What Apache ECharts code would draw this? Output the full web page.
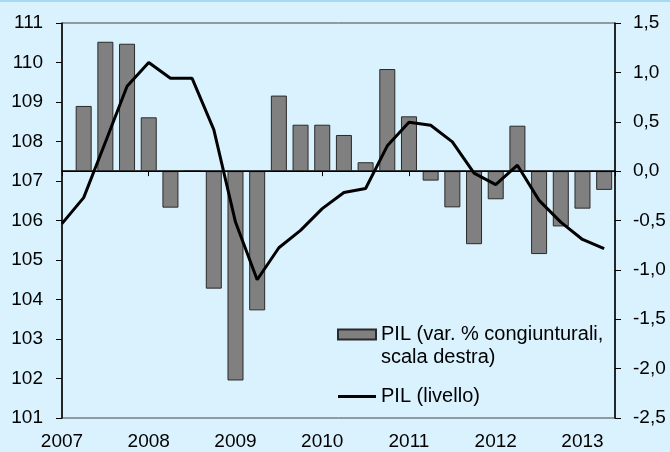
<!DOCTYPE html>
<html>
<head>
<meta charset="utf-8">
<script src="https://cdn.jsdelivr.net/npm/echarts@6/dist/echarts.min.js"></script>
<style>
  html, body { margin: 0; padding: 0; background: #daf2fe; }
  #chart { width: 670px; height: 452px; }
</style>
</head>
<body>
<div id="chart"></div>
<script>
// quarters as decimal years (level starts one quarter before the changes)
const levelQuarters = [2007, 2007.25, 2007.5, 2007.75, 2008, 2008.25, 2008.5, 2008.75,
  2009, 2009.25, 2009.5, 2009.75, 2010, 2010.25, 2010.5, 2010.75,
  2011, 2011.25, 2011.5, 2011.75, 2012, 2012.25, 2012.5, 2012.75, 2013, 2013.25];
// PIL (livello)
const level = [105.92, 106.58, 107.98, 109.4, 110.0, 109.6, 109.6, 108.3,
  105.96, 104.5, 105.31, 105.75, 106.3, 106.71, 106.81, 107.89,
  108.49, 108.41, 107.99, 107.2, 106.91, 107.4, 106.51, 105.96, 105.52, 105.29];
// PIL var. % congiunturali (right scale), from 2007 Q2
const changeQuarters = levelQuarters.slice(1);
const change = [0.66, 1.31, 1.29, 0.545, -0.37, 0.0, -1.19,
  -2.12, -1.41, 0.765, 0.47, 0.47, 0.366, 0.09, 1.034,
  0.555, -0.096, -0.367, -0.74, -0.285, 0.46, -0.84, -0.56, -0.38, -0.19];
const yearTicks = [2007, 2008, 2009, 2010, 2011, 2012, 2013];

const barName = 'PIL (var. % congiunturali,\nscala destra)';
const lineName = 'PIL (livello)';
const font = "'Liberation Sans', Arial, sans-serif";

const chart = echarts.init(document.getElementById('chart'));
chart.setOption({
  backgroundColor: '#daf2fe',
  animation: false,
  textStyle: { fontFamily: font, color: '#000' },
  graphic: [{
    type: 'rect', shape: { x: 0, y: 0, width: 670, height: 2 },
    style: { fill: '#a6daf3' }, silent: true
  }],
  grid: {
    left: 62, right: 55, top: 23, bottom: 34,
    show: true, borderColor: '#444', borderWidth: 1
  },
  legend: {
    orient: 'vertical',
    left: 337, top: 300,
    padding: 0,
    itemWidth: 38, itemHeight: 10, itemGap: 16,
    textStyle: { fontSize: 20, lineHeight: 23, color: '#000', fontFamily: font },
    // empty first line keeps the icon level with the first text line
    formatter: name => name === barName ? '\n' + name : name,
    data: [
      { name: barName, icon: 'rect' },
      { name: lineName, icon: 'path://M0,0 L38,0 L38,3 L0,3 Z' }
    ]
  },
  xAxis: {
    type: 'value',
    min: 2007, max: 2013.375, interval: 1,
    splitLine: { show: false },
    axisLine: { lineStyle: { color: '#000', width: 1.5 } },
    axisTick: { show: true, length: 5, lineStyle: { color: '#000' } },
    axisLabel: {
      fontSize: 19, color: '#000', margin: 14,
      formatter: v => yearTicks.includes(v) ? String(v) : ''
    }
  },
  yAxis: [{
    type: 'value', position: 'left',
    min: 101, max: 111, interval: 1,
    splitLine: { show: false },
    axisLine: { show: true, lineStyle: { color: '#000', width: 1.5 } },
    axisTick: { show: true, length: 6, lineStyle: { color: '#000' } },
    axisLabel: { fontSize: 19, color: '#000', margin: 19 }
  }, {
    type: 'value', position: 'right',
    min: -2.5, max: 1.5, interval: 0.5,
    splitLine: { show: false },
    axisLine: { show: true, lineStyle: { color: '#000', width: 1.5 } },
    axisTick: { show: true, length: 6, lineStyle: { color: '#000' } },
    axisLabel: {
      fontSize: 19, color: '#000', margin: 18,
      formatter: v => v.toFixed(1).replace('.', ',')
    }
  }],
  series: [{
    name: barName,
    type: 'bar',
    yAxisIndex: 1,
    barWidth: 16,
    data: changeQuarters.map((q, i) => [q, change[i]]),
    itemStyle: { color: '#808080', borderColor: '#2a2a2a', borderWidth: 1 },
    markLine: {
      silent: true, symbol: 'none',
      label: { show: false },
      lineStyle: { color: '#000', width: 1, type: 'solid' },
      data: [{ yAxis: 0 }]
    }
  }, {
    name: lineName,
    type: 'line',
    yAxisIndex: 0,
    symbol: 'none',
    data: levelQuarters.map((q, i) => [q, level[i]]),
    lineStyle: { color: '#000', width: 3 },
    itemStyle: { color: '#000' },
    z: 3
  }]
});
</script>
</body>
</html>
